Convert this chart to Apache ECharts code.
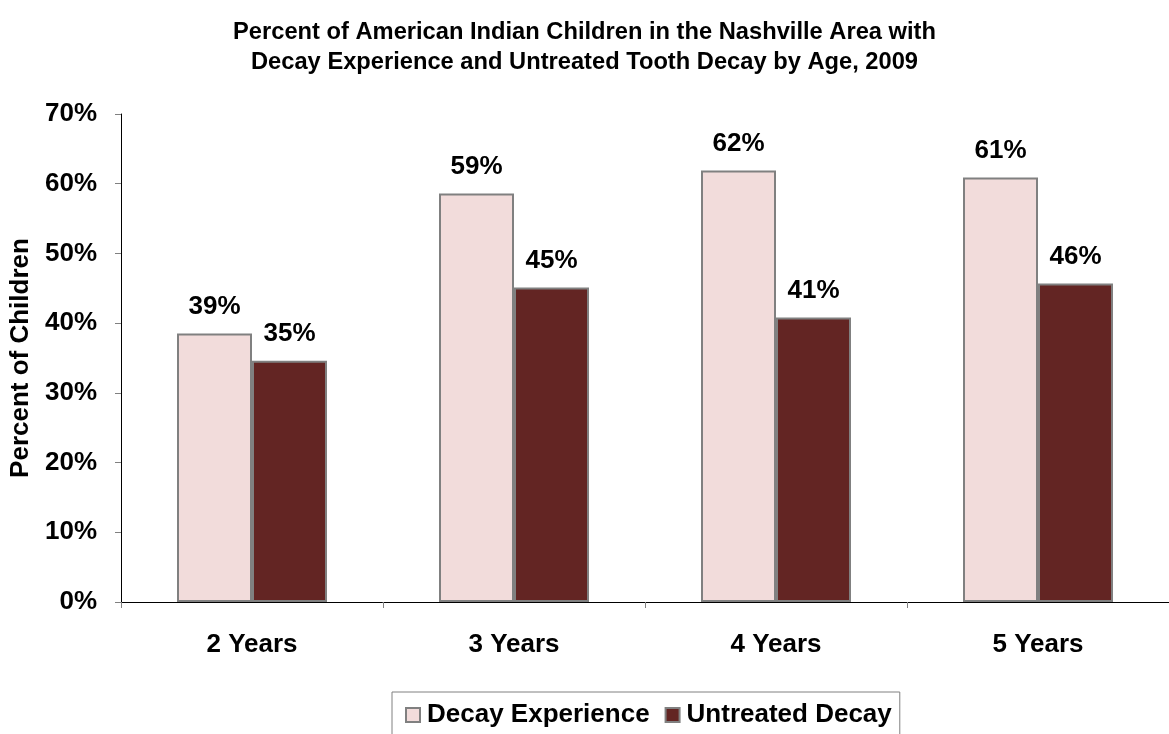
<!DOCTYPE html>
<html>
<head>
<meta charset="utf-8">
<script src="https://cdn.jsdelivr.net/npm/echarts@6/dist/echarts.min.js"></script>
<style>
  html, body { margin: 0; padding: 0; background: #fff; }
  #main { width: 1169px; height: 734px; }
</style>
</head>
<body>
<div id="main"></div>
<script>
// data
var ages = ['2 Years', '3 Years', '4 Years', '5 Years'];
var decayExperience = [38.5, 58.6, 61.9, 60.9];
var untreatedDecay = [34.6, 45.1, 40.8, 45.7];
var yTicks = [0, 10, 20, 30, 40, 50, 60, 70];

var font = 'Liberation Sans, Arial, sans-serif';

var chart = echarts.init(document.getElementById('main'));

function pctLabel(p) {
  return Math.round(p.value) + '%';
}

var option = {
  backgroundColor: '#fff',
  animation: false,
  title: {
    text: 'Percent of American Indian Children in the Nashville Area with\nDecay Experience and Untreated Tooth Decay by Age, 2009',
    left: 'center',
    top: 12,
    textStyle: {
      fontFamily: font,
      fontWeight: 'bold',
      fontSize: 23.7,
      lineHeight: 30,
      color: '#000'
    }
  },
  legend: {
    bottom: -8,
    left: 392,
    itemWidth: 14,
    itemHeight: 14,
    itemGap: 15,
    padding: [10, 8, 14, 13],
    borderColor: '#808080',
    borderWidth: 1,
    icon: 'rect',
    textStyle: {
      fontFamily: font,
      fontWeight: 'bold',
      fontSize: 26,
      color: '#000',
      padding: [0, 0, 0, 2]
    },
    data: ['Decay Experience', 'Untreated Decay']
  },
  grid: {
    left: 120,
    right: 0,
    top: 114,
    bottom: 132
  },
  xAxis: {
    type: 'category',
    data: ages,
    axisLine: { lineStyle: { color: '#000', width: 1 } },
    axisTick: { show: true, length: 6, lineStyle: { color: '#808080' } },
    axisLabel: {
      margin: 30,
      fontFamily: font,
      fontWeight: 'bold',
      fontSize: 26,
      color: '#000'
    }
  },
  yAxis: {
    type: 'value',
    min: yTicks[0],
    max: yTicks[yTicks.length - 1],
    interval: 10,
    name: 'Percent of Children',
    nameLocation: 'middle',
    nameGap: 87,
    nameTextStyle: {
      fontFamily: font,
      fontWeight: 'bold',
      fontSize: 26,
      color: '#000'
    },
    axisLine: { show: true, lineStyle: { color: '#000', width: 1 } },
    axisTick: { show: true, length: 6, lineStyle: { color: '#808080' } },
    splitLine: { show: false },
    axisLabel: {
      margin: 24,
      formatter: '{value}%',
      fontFamily: font,
      fontWeight: 'bold',
      fontSize: 26,
      color: '#000'
    }
  },
  series: [
    {
      name: 'Decay Experience',
      type: 'bar',
      data: decayExperience,
      barWidth: 75,
      barGap: '0%',
      itemStyle: {
        color: '#F2DCDB',
        borderColor: '#808080',
        borderWidth: 2
      },
      label: {
        show: true,
        position: 'top',
        distance: 14,
        formatter: pctLabel,
        fontFamily: font,
        fontWeight: 'bold',
        fontSize: 26,
        color: '#000'
      }
    },
    {
      name: 'Untreated Decay',
      type: 'bar',
      data: untreatedDecay,
      barWidth: 75,
      barGap: '0%',
      itemStyle: {
        color: '#632523',
        borderColor: '#808080',
        borderWidth: 2
      },
      label: {
        show: true,
        position: 'top',
        distance: 14,
        formatter: pctLabel,
        fontFamily: font,
        fontWeight: 'bold',
        fontSize: 26,
        color: '#000'
      }
    }
  ]
};

chart.setOption(option);
</script>
</body>
</html>
